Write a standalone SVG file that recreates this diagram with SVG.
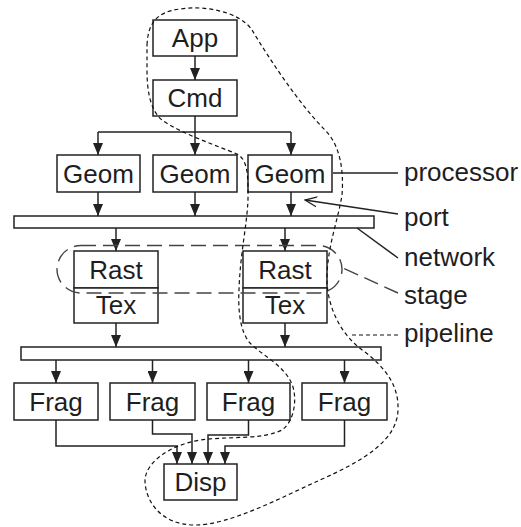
<svg xmlns="http://www.w3.org/2000/svg" width="521" height="527" viewBox="0 0 521 527">
  <style>
    .box { fill: #fff; stroke: #222; stroke-width: 1.5; }
    .bar { fill: #fff; stroke: #222; stroke-width: 1.5; }
    .lbl { font-family: "Liberation Sans", Arial, Helvetica, sans-serif; font-size: 26px; fill: #1e1e1e; }
    .mid { text-anchor: middle; }
    .wire { fill: none; stroke: #222; stroke-width: 1.5; }
    .arr { marker-end: url(#head); }
    .stage { fill: none; stroke: #444; stroke-width: 1.4; stroke-dasharray: 15 7; }
    .pipe { fill: none; stroke: #111; stroke-width: 1.2; stroke-dasharray: 4 3; }
  </style>
  <defs>
    <marker id="head" markerUnits="userSpaceOnUse" markerWidth="12" markerHeight="10" refX="12" refY="5" orient="auto">
      <path d="M0,0 L12,5 L0,10 z" fill="#222"/>
    </marker>
    <marker id="open" markerUnits="userSpaceOnUse" markerWidth="13" markerHeight="12" refX="12" refY="6" orient="auto">
      <path d="M0,1 L12,6 L0,11" fill="none" stroke="#222" stroke-width="1.3"/>
    </marker>
  </defs>

  <rect width="521" height="527" fill="#fff"/>

  <!-- interconnect bars -->
  <g id="network1"><rect class="bar" x="14" y="216" width="360" height="12"/></g>
  <g id="network2"><rect class="bar" x="21" y="347" width="360" height="13"/></g>

  <!-- processing nodes -->
  <g id="app"><rect class="box" x="153" y="20" width="84" height="36"/><text class="lbl mid" x="195" y="47">App</text></g>
  <g id="cmd"><rect class="box" x="153" y="80" width="84" height="36"/><text class="lbl mid" x="195" y="107">Cmd</text></g>

  <g id="geom1"><rect class="box" x="57" y="155" width="83" height="37"/><text class="lbl mid" x="98.5" y="182.5">Geom</text></g>
  <g id="geom2"><rect class="box" x="153" y="155" width="84" height="37"/><text class="lbl mid" x="195" y="182.5">Geom</text></g>
  <g id="geom3"><rect class="box" x="248" y="155" width="84" height="37"/><text class="lbl mid" x="290" y="182.5">Geom</text></g>

  <g id="rasttex1">
    <rect class="box" x="74" y="251" width="84" height="37"/><text class="lbl mid" x="116" y="278.5">Rast</text>
    <rect class="box" x="74" y="288" width="84" height="35"/><text class="lbl mid" x="116" y="314">Tex</text>
  </g>
  <g id="rasttex2">
    <rect class="box" x="243" y="251" width="84" height="37"/><text class="lbl mid" x="285" y="278.5">Rast</text>
    <rect class="box" x="243" y="288" width="84" height="35"/><text class="lbl mid" x="285" y="314">Tex</text>
  </g>

  <g id="frag1"><rect class="box" x="14" y="383" width="84" height="37"/><text class="lbl mid" x="56" y="410.5">Frag</text></g>
  <g id="frag2"><rect class="box" x="110" y="383" width="85" height="37"/><text class="lbl mid" x="152.5" y="410.5">Frag</text></g>
  <g id="frag3"><rect class="box" x="207" y="383" width="83" height="37"/><text class="lbl mid" x="248.5" y="410.5">Frag</text></g>
  <g id="frag4"><rect class="box" x="302" y="383" width="85" height="37"/><text class="lbl mid" x="344.5" y="410.5">Frag</text></g>

  <g id="disp"><rect class="box" x="164" y="464" width="73" height="36"/><text class="lbl mid" x="200.5" y="491">Disp</text></g>

  <!-- connectors -->
  <g id="connectors">
    <line class="wire arr" x1="195" y1="56" x2="195" y2="80"/>
    <line class="wire arr" x1="195" y1="116" x2="195" y2="155"/>
    <line class="wire" x1="98" y1="132" x2="291" y2="132"/>
    <line class="wire arr" x1="98" y1="132" x2="98" y2="155"/>
    <line class="wire arr" x1="291" y1="132" x2="291" y2="155"/>

    <line class="wire arr" x1="98" y1="192" x2="98" y2="216"/>
    <line class="wire arr" x1="195" y1="192" x2="195" y2="216"/>
    <line class="wire arr" x1="291" y1="192" x2="291" y2="216"/>

    <line class="wire arr" x1="116" y1="228" x2="116" y2="251"/>
    <line class="wire arr" x1="285" y1="228" x2="285" y2="251"/>

    <line class="wire arr" x1="116" y1="323" x2="116" y2="347"/>
    <line class="wire arr" x1="285" y1="323" x2="285" y2="347"/>

    <line class="wire arr" x1="56" y1="360" x2="56" y2="383"/>
    <line class="wire arr" x1="152.5" y1="360" x2="152.5" y2="383"/>
    <line class="wire arr" x1="248.5" y1="360" x2="248.5" y2="383"/>
    <line class="wire arr" x1="344.5" y1="360" x2="344.5" y2="383"/>

    <polyline class="wire arr" points="56,420 56,446 177,446 177,464"/>
    <polyline class="wire arr" points="152.5,420 152.5,434 192,434 192,464"/>
    <polyline class="wire arr" points="248.5,420 248.5,435 208,435 208,464"/>
    <polyline class="wire arr" points="344.5,420 344.5,446 225,446 225,464"/>
  </g>

  <!-- stage outline -->
  <g id="stage-outline">
    <rect class="stage" x="57" y="245.5" width="285" height="47.5" rx="24" ry="24"/>
  </g>

  <!-- pipeline outline -->
  <g id="pipeline-outline">
    <path class="pipe" d="M147,45 C148,25 155,12 180,9 C205,5 240,12 252,30 C270,60 300,105 325,130 C340,145 344,170 342,195 C338,220 328,245 327,275 C326,305 340,335 365,352 C385,368 399,385 398,410 C397,440 365,460 320,480 C280,498 230,525 195,525 C160,525 145,500 145,480 C146,462 170,445 200,440 C230,436 262,440 282,430 C296,420 298,393 290,380 C282,365 262,355 250,343 C240,332 238,310 239,290 C240,255 247,225 248,200 C248,180 249,160 237,154 C215,145 180,133 162,120 C150,110 147,90 147,70 C147,60 147,52 147,45 Z"/>
  </g>

  <!-- callout labels -->
  <g id="callouts">
    <line class="wire" x1="333" y1="173" x2="398" y2="173"/>
    <text class="lbl" x="404" y="181">processor</text>

    <line class="wire" x1="398" y1="214" x2="305" y2="200" marker-end="url(#open)"/>
    <text class="lbl" x="404" y="226">port</text>

    <line class="wire" x1="398" y1="258" x2="357" y2="228"/>
    <text class="lbl" x="404" y="266">network</text>

    <line x1="398" y1="293" x2="343" y2="268" stroke="#444" stroke-width="1.4" stroke-dasharray="15 7"/>
    <text class="lbl" x="404" y="304">stage</text>

    <line x1="398" y1="335" x2="350" y2="335" stroke="#111" stroke-width="1.2" stroke-dasharray="4 3"/>
    <text class="lbl" x="404" y="342">pipeline</text>
  </g>
</svg>
